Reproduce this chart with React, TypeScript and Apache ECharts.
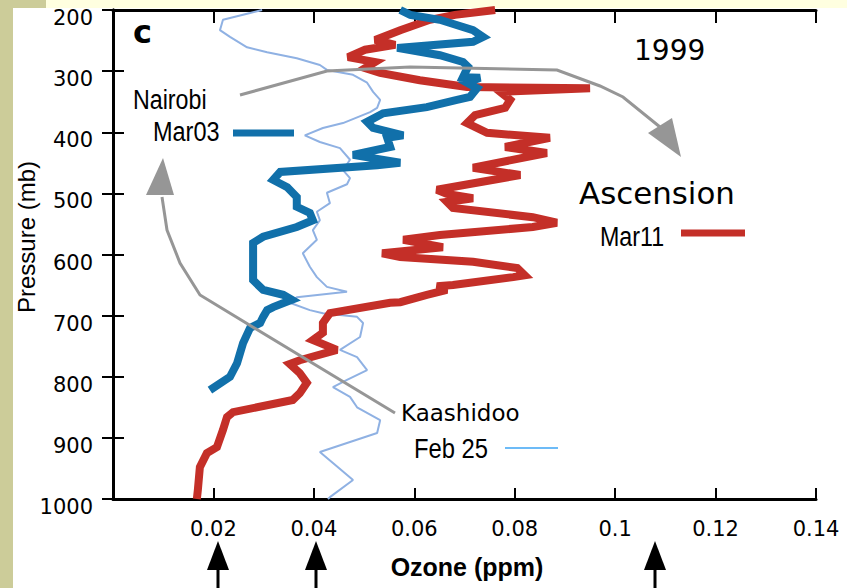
import React, { useEffect, useRef } from 'react';
import * as echarts from 'echarts';

const xTickLabels = ['', '0.02', '0.04', '0.06', '0.08', '0.1', '0.12', '0.14'];
const yTickLabels = ['200', '300', '400', '500', '600', '700', '800', '900', '1000'];

// [ozone ppm, pressure mb]
const ascensionMar11: [number, number][] = [
  [0.0761, 200], [0.0681, 208], [0.0631, 216], [0.0572, 233], [0.0522, 249], [0.0562, 257],
  [0.0502, 265], [0.0468, 277], [0.0522, 285], [0.0502, 295], [0.0532, 303], [0.0611, 315],
  [0.0705, 326], [0.095, 328], [0.0771, 334], [0.0791, 347], [0.0781, 360], [0.0721, 372],
  [0.0705, 385], [0.0745, 401], [0.087, 409], [0.0781, 424], [0.0864, 434], [0.0717, 458],
  [0.0811, 470], [0.0645, 494], [0.0665, 501], [0.0717, 508], [0.0665, 514], [0.0677, 524],
  [0.0836, 539], [0.0884, 548], [0.0836, 555], [0.0651, 568], [0.0578, 576], [0.0657, 588],
  [0.0536, 598], [0.0572, 604], [0.0717, 612], [0.0805, 622], [0.082, 634], [0.0797, 637],
  [0.0677, 650], [0.0645, 652], [0.0665, 658], [0.0625, 666], [0.0572, 678], [0.0552, 679],
  [0.0432, 696], [0.0418, 712], [0.0418, 728], [0.0398, 740], [0.0446, 756], [0.0372, 773],
  [0.0352, 779], [0.0372, 794], [0.0386, 810], [0.0372, 827], [0.0358, 838], [0.0239, 858],
  [0.0227, 866], [0.0219, 887], [0.0207, 915], [0.0187, 925], [0.0173, 948], [0.0169, 985],
  [0.0167, 1000],
];

const nairobiMar03: [number, number][] = [
  [0.0572, 200], [0.0592, 208], [0.0651, 216], [0.0717, 233], [0.0737, 244], [0.0717, 252],
  [0.0566, 262], [0.0651, 274], [0.0697, 285], [0.0707, 293], [0.0697, 310], [0.0731, 311],
  [0.0705, 319], [0.0725, 328], [0.0711, 342], [0.0685, 347], [0.0625, 359], [0.0538, 369],
  [0.0506, 383], [0.0518, 393], [0.0578, 405], [0.0546, 409], [0.0552, 424], [0.0478, 437],
  [0.0572, 450], [0.0526, 454], [0.0333, 465], [0.0319, 478], [0.0347, 490], [0.0366, 506],
  [0.0366, 522], [0.0392, 532], [0.0398, 544], [0.0366, 555], [0.0299, 571], [0.0279, 581],
  [0.0279, 609], [0.0279, 642], [0.0299, 658], [0.0339, 666], [0.0356, 674], [0.0319, 686],
  [0.0307, 691], [0.0299, 702], [0.0293, 712], [0.0273, 720], [0.0259, 745], [0.0247, 778],
  [0.0233, 800], [0.0193, 822],
];

const kaashidooFeb25: [number, number][] = [
  [0.0297, 200], [0.0273, 205], [0.0219, 216], [0.0213, 233], [0.0233, 244], [0.0267, 261],
  [0.0307, 269], [0.0366, 279], [0.0412, 290], [0.0426, 298], [0.0478, 306], [0.0506, 319],
  [0.0518, 334], [0.0532, 347], [0.0526, 360], [0.0512, 367], [0.0458, 385], [0.0418, 393],
  [0.0382, 405], [0.0412, 416], [0.0452, 426], [0.0472, 445], [0.0458, 462], [0.0472, 475],
  [0.0466, 485], [0.0426, 499], [0.0432, 516], [0.0406, 530], [0.0412, 544], [0.0398, 560],
  [0.0406, 576], [0.0378, 598], [0.0392, 620], [0.0406, 637], [0.0426, 653], [0.0466, 661],
  [0.0366, 670], [0.0352, 679], [0.0392, 691], [0.0418, 696], [0.0486, 702], [0.0498, 712],
  [0.0492, 735], [0.0452, 756], [0.0486, 768], [0.0506, 789], [0.0466, 805], [0.0438, 817],
  [0.0472, 833], [0.0486, 850], [0.0532, 871], [0.0526, 892], [0.0412, 923], [0.0438, 941],
  [0.0478, 969], [0.0432, 997], [0.0428, 1000],
];

const RED = '#c42f28';
const BLUE = '#1170aa';
const LIGHT = '#8fb1e3';
const GRAY = '#969696';

export default function App() {
  const ref = useRef<HTMLDivElement>(null);
  useEffect(() => {
    if (!ref.current) return;
    const chart = echarts.init(ref.current, undefined, { renderer: 'svg' });
    const axisLine = { show: true, lineStyle: { color: '#000', width: 3 } };
    const tick = { show: true, inside: true, length: 11, lineStyle: { color: '#000', width: 2 } };
    const lab = { fontFamily: 'DejaVu Sans', fontSize: 21, color: '#000' };
    const txt = (text: string, x: number, y: number, size: number, family: string, extra: any = {}) => ({
      type: 'text', x, y, z: 20, ...extra,
      style: { text, fontSize: size, fontFamily: family, fill: '#000', align: 'left', verticalAlign: 'middle', ...(extra.style || {}) },
    });
    const blackArrow = (x: number) => [
      { type: 'polygon', z: 20, shape: { points: [[x - 11, 570], [x + 11, 570], [x, 541]] }, style: { fill: '#000' } },
      { type: 'line', z: 20, shape: { x1: x, y1: 568, x2: x, y2: 590 }, style: { stroke: '#000', lineWidth: 3 } },
    ];
    chart.setOption({
      animation: false,
      backgroundColor: '#fff',
      grid: { left: 113, top: 10, right: 31, bottom: 89, containLabel: false },
      xAxis: [
        {
          type: 'value', min: 0, max: 0.14, interval: 0.02, position: 'bottom',
          axisLine, axisTick: tick, splitLine: { show: false },
          axisLabel: { ...lab, margin: 19, formatter: (v: number) => xTickLabels[Math.round(v / 0.02)] ?? '' },
        },
        {
          type: 'value', min: 0, max: 0.14, interval: 0.02, position: 'top',
          axisLine, axisTick: { ...tick, length: 13 }, splitLine: { show: false }, axisLabel: { show: false },
        },
      ],
      yAxis: [
        {
          type: 'value', min: 200, max: 1000, interval: 100, inverse: true, position: 'left',
          axisLine, axisTick: tick, splitLine: { show: false },
          axisLabel: {
            ...lab, margin: 20, verticalAlign: 'top', lineHeight: 16,
            formatter: (v: number) => yTickLabels[Math.round((v - 200) / 100)] ?? '',
          },
        },
        {
          type: 'value', min: 200, max: 1000, interval: 100, inverse: true, position: 'right',
          axisLine, axisTick: tick, splitLine: { show: false }, axisLabel: { show: false },
        },
      ],
      series: [
        {
          name: 'Kaashidoo Feb 25', type: 'line', data: kaashidooFeb25, showSymbol: false, z: 2,
          lineStyle: { color: LIGHT, width: 2 }, clip: true,
        },
        {
          name: 'Ascension Mar11', type: 'line', data: ascensionMar11, showSymbol: false, z: 3,
          lineStyle: { color: RED, width: 8, join: 'miter', miterLimit: 3 }, clip: true,
        },
        {
          name: 'Nairobi Mar03', type: 'line', data: nairobiMar03, showSymbol: false, z: 4,
          lineStyle: { color: BLUE, width: 8, join: 'miter', miterLimit: 3 }, clip: true,
        },
      ],
      graphic: [
        { type: 'rect', z: -10, shape: { x: 0, y: 0, width: 13, height: 588 }, style: { fill: '#cccc99' } },
        { type: 'rect', z: -10, shape: { x: 0, y: 0, width: 46, height: 8 }, style: { fill: '#cccc99' } },
        { type: 'rect', z: -10, shape: { x: 46, y: 0, width: 801, height: 8 }, style: { fill: '#ffffe0' } },
        txt('c', 133, 32, 32, 'DejaVu Sans', { style: { fontWeight: 'bold' } }),
        txt('1999', 634, 50, 28, 'DejaVu Sans'),
        txt('Nairobi', 133, 99, 28, 'Liberation Sans', { scaleX: 0.83 }),
        txt('Mar03', 153, 131, 27, 'Liberation Sans', { scaleX: 0.87 }),
        txt('Ascension', 579, 194, 30, 'DejaVu Sans', { scaleX: 1.03 }),
        txt('Mar11', 600, 236, 28, 'Liberation Sans', { scaleX: 0.83 }),
        txt('Kaashidoo', 401, 413, 23, 'DejaVu Sans'),
        txt('Feb 25', 414, 448, 28, 'Liberation Sans', { scaleX: 0.85 }),
        txt('Ozone (ppm)', 467, 567, 25, 'Liberation Sans', { style: { fontWeight: 'bold', align: 'center' } }),
        txt('Pressure (mb)', 26, 237, 24, 'Liberation Sans', { rotation: Math.PI / 2, style: { align: 'center' } }),
        { type: 'line', z: 20, shape: { x1: 233, y1: 133, x2: 294, y2: 133 }, style: { stroke: BLUE, lineWidth: 7 } },
        { type: 'line', z: 20, shape: { x1: 681, y1: 233, x2: 745, y2: 233 }, style: { stroke: RED, lineWidth: 7 } },
        { type: 'line', z: 20, shape: { x1: 505, y1: 448, x2: 558, y2: 448 }, style: { stroke: '#3da5f4', lineWidth: 1.5 } },
        {
          type: 'polyline', z: 20,
          shape: { points: [[240, 95], [327, 71], [410, 67], [557, 70], [600, 86], [623, 97], [660, 127]] },
          style: { stroke: GRAY, lineWidth: 3, fill: 'none' },
        },
        { type: 'polygon', z: 20, shape: { points: [[648, 133], [672, 118], [681, 157]] }, style: { fill: GRAY } },
        {
          type: 'polyline', z: 20,
          shape: { points: [[395, 413], [200, 295], [180, 263], [167, 230], [162, 197]] },
          style: { stroke: GRAY, lineWidth: 3, fill: 'none' },
        },
        { type: 'polygon', z: 20, shape: { points: [[146, 195], [174, 195], [163, 158]] }, style: { fill: GRAY } },
        ...blackArrow(218),
        ...blackArrow(316),
        ...blackArrow(655),
      ],
    });
    return () => chart.dispose();
  }, []);
  return <div ref={ref} style={{ position: 'absolute', left: 0, top: 0, width: 847, height: 588 }} />;
}
